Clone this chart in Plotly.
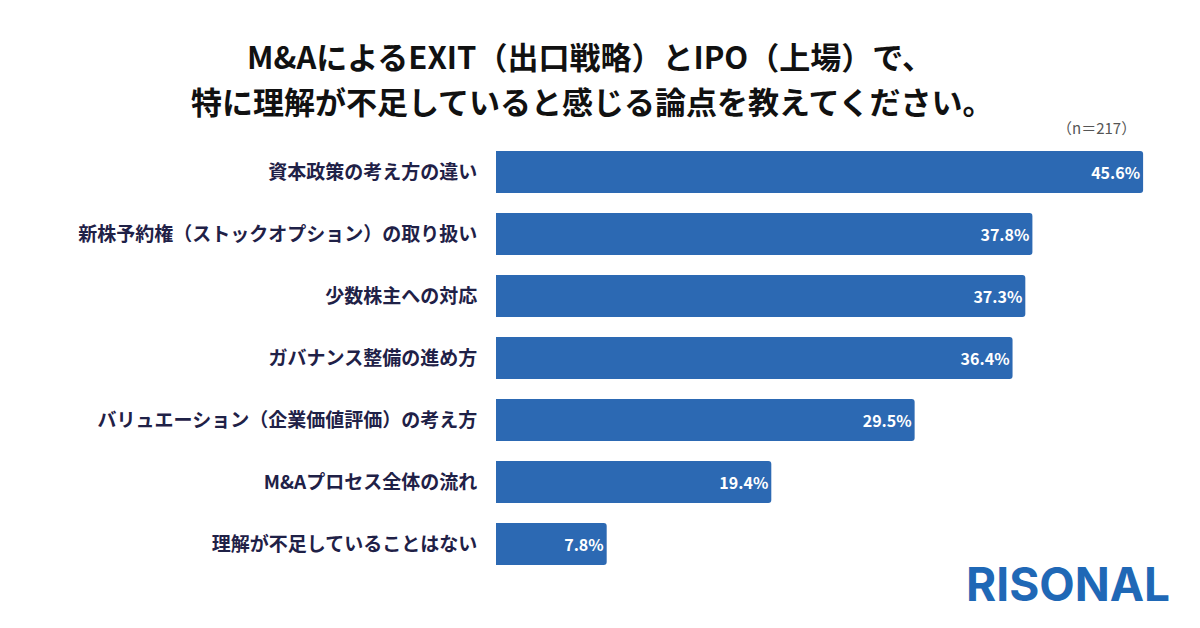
import plotly.graph_objects as go

categories = [
    "資本政策の考え方の違い",
    "新株予約権（ストックオプション）の取り扱い",
    "少数株主への対応",
    "ガバナンス整備の進め方",
    "バリュエーション（企業価値評価）の考え方",
    "M&Aプロセス全体の流れ",
    "理解が不足していることはない",
]
values = [45.6, 37.8, 37.3, 36.4, 29.5, 19.4, 7.8]
value_labels = [f"{v:.1f}%" for v in values]

FONT = "Noto Sans CJK JP"
BAR = "#2c69b3"
TEXT = "#1f2147"

fig = go.Figure(go.Bar(
    x=values, y=categories, orientation="h",
    marker=dict(color=BAR, line=dict(width=0), cornerradius=3),
    width=0.68,
    text=value_labels, textposition="inside", insidetextanchor="end",
    textfont=dict(color="white", size=16, family=FONT, weight="bold"),
    cliponaxis=False,
))

fig.update_layout(
    width=1200, height=628,
    margin=dict(l=496, r=20, t=141, b=53),
    paper_bgcolor="white", plot_bgcolor="white",
    showlegend=False,
    bargap=0.32,
    xaxis=dict(range=[0, 48.2], visible=False, fixedrange=True),
    yaxis=dict(
        autorange="reversed", showgrid=False, zeroline=False, showline=False,
        ticks="outside", ticklen=14, tickcolor="rgba(0,0,0,0)",
        tickfont=dict(family=FONT, size=19, color=TEXT, weight="bold"),
    ),
    font=dict(family=FONT),
    annotations=[
        dict(text="M&AによるEXIT（出口戦略）とIPO（上場）で、", x=0.492, y=55, xref="paper", yref="paper",
             showarrow=False, font=dict(size=31, color="#111111", family=FONT, weight="bold")),
        dict(text="特に理解が不足していると感じる論点を教えてください。", x=0.494, y=100, xref="paper", yref="paper",
             showarrow=False, font=dict(size=31, color="#111111", family=FONT, weight="bold")),
        dict(text="（n＝217）", x=1096, y=127, xref="paper", yref="paper",
             showarrow=False, font=dict(size=15, color="#555555", family=FONT)),
        dict(text="RISONAL", x=1068, y=584, xref="paper", yref="paper",
             showarrow=False, font=dict(size=46, color="#1f68b6", family="Inter", weight="bold")),
    ],
)

# convert pixel positions of annotations into paper coordinates
pw = 1200 - 496 - 20
ph = 628 - 141 - 53
for a in fig.layout.annotations:
    px = a.x if a.x > 1 else a.x * 1200
    a.x = (px - 496) / pw
    a.y = (628 - 53 - a.y) / ph
    a.xanchor = "center"
    a.yanchor = "middle"

fig.write_html("out.html")
